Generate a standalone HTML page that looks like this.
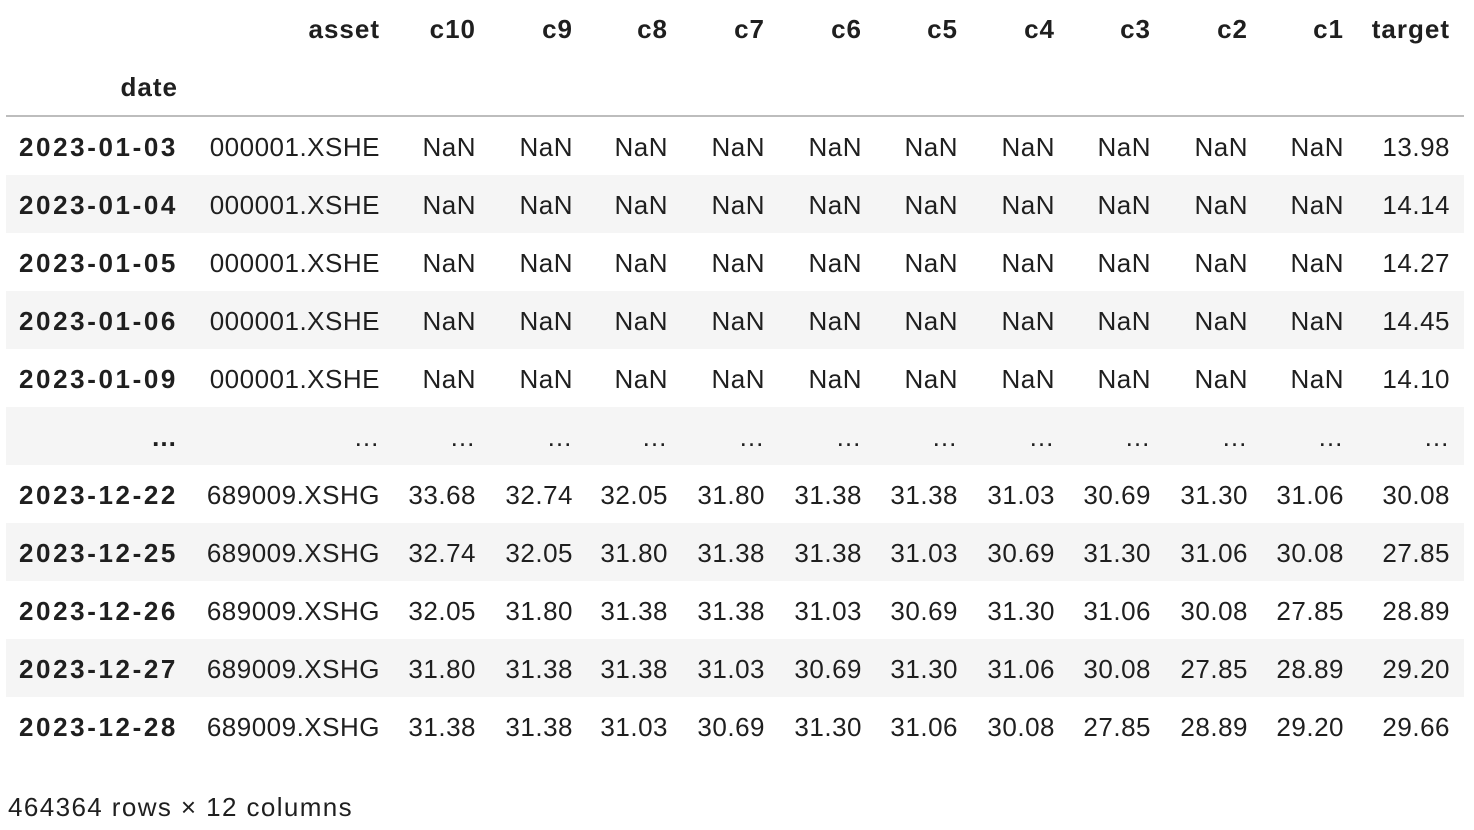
<!DOCTYPE html>
<html><head><meta charset="utf-8">
<style>
html,body{margin:0;padding:0;background:#fff;}
body{width:1474px;height:830px;position:relative;overflow:hidden;font-family:"Liberation Sans",sans-serif;color:#1f1f1f;}
.c{position:absolute;font-size:26px;line-height:58px;height:58px;white-space:nowrap;text-align:right;letter-spacing:0.5px;}
.b{font-weight:bold;letter-spacing:1px;}
.d{letter-spacing:2.6px;}
.bg{position:absolute;left:6px;width:1458px;height:58px;background:#f5f5f5;}
</style></head>
<body>
<div style="position:absolute;left:6px;top:115px;width:1458px;height:2px;background:#bdbdbd"></div>
<div id="t"></div>
<div style="position:absolute;left:8px;top:792px;font-size:26px;line-height:30px;letter-spacing:1.4px">464364 rows × 12 columns</div>
<script>
const headers = ["asset","c10","c9","c8","c7","c6","c5","c4","c3","c2","c1","target"];
const dates = ["2023-01-03","2023-01-04","2023-01-05","2023-01-06","2023-01-09","...","2023-12-22","2023-12-25","2023-12-26","2023-12-27","2023-12-28"];
const assets = ["000001.XSHE","000001.XSHE","000001.XSHE","000001.XSHE","000001.XSHE","...","689009.XSHG","689009.XSHG","689009.XSHG","689009.XSHG","689009.XSHG"];
const values = [
["NaN","NaN","NaN","NaN","NaN","NaN","NaN","NaN","NaN","NaN","13.98"],
["NaN","NaN","NaN","NaN","NaN","NaN","NaN","NaN","NaN","NaN","14.14"],
["NaN","NaN","NaN","NaN","NaN","NaN","NaN","NaN","NaN","NaN","14.27"],
["NaN","NaN","NaN","NaN","NaN","NaN","NaN","NaN","NaN","NaN","14.45"],
["NaN","NaN","NaN","NaN","NaN","NaN","NaN","NaN","NaN","NaN","14.10"],
["...","...","...","...","...","...","...","...","...","...","..."],
["33.68","32.74","32.05","31.80","31.38","31.38","31.03","30.69","31.30","31.06","30.08"],
["32.74","32.05","31.80","31.38","31.38","31.03","30.69","31.30","31.06","30.08","27.85"],
["32.05","31.80","31.38","31.38","31.03","30.69","31.30","31.06","30.08","27.85","28.89"],
["31.80","31.38","31.38","31.03","30.69","31.30","31.06","30.08","27.85","28.89","29.20"],
["31.38","31.38","31.03","30.69","31.30","31.06","30.08","27.85","28.89","29.20","29.66"]
];
const rights=[178,380,476,573,668,765,862,958,1055,1151,1248,1344,1450];
const t=document.getElementById('t');
function cell(txt,right,top,cls,name){
  const d=document.createElement('div');
  d.className='c '+cls;
  d.textContent=txt==="..."?"…":txt;
  d.style.right=(1474-right)+'px';
  d.style.top=top+'px';
  
  
  t.appendChild(d);
}
headers.forEach((h,i)=>cell(h,rights[i+1],0,'b','column-header-'+h));
cell('date',rights[0],58,'b','index-header-date');
dates.forEach((dt,r)=>{
  const top=117+r*58;
  if(r%2===1){
    const bg=document.createElement('div');
    bg.className='bg';bg.style.top=top+'px';
    
    
    t.appendChild(bg);
  }
  cell(dt,rights[0],top+1,'b'+(dt==="..."?'':' d'),'row-index');
  cell(assets[r],rights[1],top+1,'','asset-cell');
  values[r].forEach((v,j)=>cell(v,rights[j+2],top+1,'','value-cell'));
});
</script>
</body></html>
